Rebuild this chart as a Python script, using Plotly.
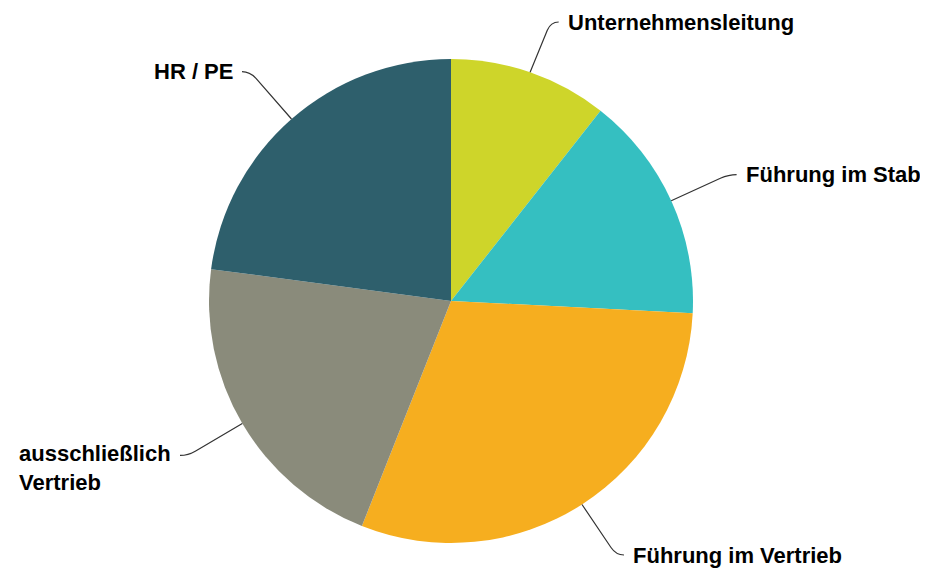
import math
import plotly.graph_objects as go

# ---- data ----
labels = ["Unternehmensleitung", "Führung im Stab", "Führung im Vertrieb",
          "ausschließlich Vertrieb", "HR / PE"]
label_text = ["Unternehmensleitung", "Führung im Stab", "Führung im Vertrieb",
              "ausschließlich<br>Vertrieb", "HR / PE"]
values = [10.6, 15.2, 30.2, 21.1, 22.9]
colors = ["#CED52A", "#35BFC1", "#F6AE1F", "#8A8B7B", "#2E5F6C"]

# ---- layout geometry (pixels, figure coordinates; page has 8px body margin) ----
W, H = 928, 569
OFF = 8
CX, CY, R = 451 - OFF, 301 - OFF, 242
ELBOW = 63      # distance of connector elbow beyond the rim
HSEG = 8        # horizontal tail of connector
GAP = 8         # gap between connector end and text
MIN_Y, MAX_Y = 14, H - 22   # keep labels inside the figure
FONT = dict(family="Liberation Sans, Arial, sans-serif", size=22, color="#000000")

fig = go.Figure()
fig.add_trace(go.Pie(
    labels=labels, values=values, sort=False, direction="clockwise", rotation=0,
    marker=dict(colors=colors, line=dict(width=0)),
    textinfo="none", hoverinfo="label+percent", showlegend=False,
    domain=dict(x=[(CX - R) / W, (CX + R) / W],
                y=[(H - CY - R) / H, (H - CY + R) / H]),
))

total = sum(values)
cum = 0.0
shapes, annots = [], []
for lab, txt, v in zip(labels, label_text, values):
    mid = (cum + v / 2) / total * 2 * math.pi
    cum += v
    sx, sy = math.sin(mid), -math.cos(mid)
    x0, y0 = CX + R * sx, CY + R * sy
    x1, y1 = CX + (R + ELBOW) * sx, CY + (R + ELBOW) * sy
    y1 = min(max(y1, MIN_Y), MAX_Y)
    # point just before the elbow, on the straight run from the rim
    t = 1 - 9 / math.hypot(x1 - x0, y1 - y0)
    xa, ya = x0 + (x1 - x0) * t, y0 + (y1 - y0) * t
    right = sx >= 0
    d = 1 if right else -1
    x2 = x1 + d * HSEG
    path = f"M {x0:.1f},{y0:.1f} L {xa:.1f},{ya:.1f} Q {x1:.1f},{y1:.1f} {x2:.1f},{y1:.1f}"
    shapes.append(dict(type="path", path=path, xref="x", yref="y",
                       line=dict(color="#333333", width=1.2)))
    multi = "<br>" in txt
    annots.append(dict(
        x=x2 + d * GAP, y=y1, xref="x", yref="y", text=f"<b>{txt}</b>",
        showarrow=False, xanchor="left" if right else "right",
        yanchor="top" if multi else "middle", yshift=15 if multi else 0,
        align="left", font=FONT, borderpad=0,
    ))

fig.update_layout(
    width=W, height=H, margin=dict(l=0, r=0, t=0, b=0),
    paper_bgcolor="white", plot_bgcolor="rgba(0,0,0,0)",
    xaxis=dict(range=[0, W], visible=False, domain=[0, 1], fixedrange=True),
    yaxis=dict(range=[H, 0], visible=False, domain=[0, 1], fixedrange=True),
    shapes=shapes, annotations=annots,
)

fig.write_html("out.html")
